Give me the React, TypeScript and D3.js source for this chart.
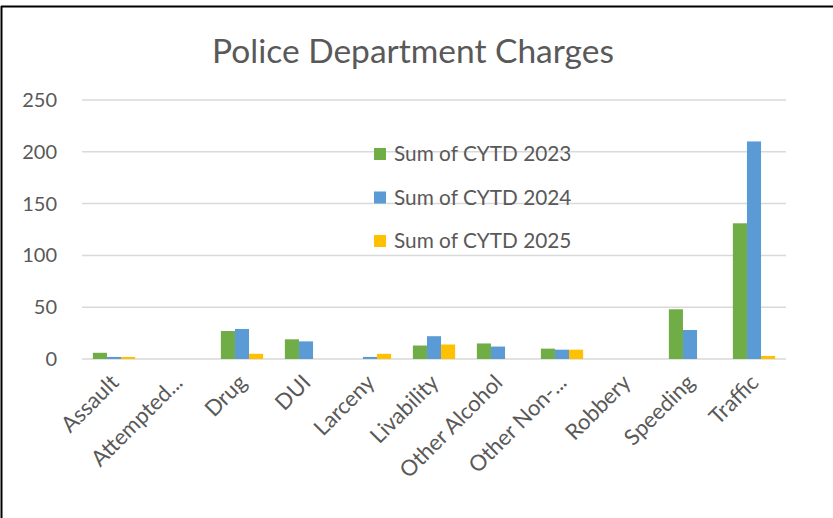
import React from "react";
import * as d3 from "d3";

const categories = ["Assault", "Attempted...", "Drug", "DUI", "Larceny", "Livability", "Other Alcohol", "Other Non-...", "Robbery", "Speeding", "Traffic"];
const seriesNames = ["Sum of CYTD 2023", "Sum of CYTD 2024", "Sum of CYTD 2025"];
const cytd2023 = [6, 0, 27, 19, 0, 13, 15, 10, 0, 48, 131];
const cytd2024 = [2, 0, 29, 17, 2, 22, 12, 9, 0, 28, 210];
const cytd2025 = [2, 0, 5, 0, 5, 14, 0, 9, 0, 0, 3];
const yTicks = [0, 50, 100, 150, 200, 250];
const colors = ["#70AD47", "#5B9BD5", "#FFC000"];

const W = 833;
const H = 518;
const FONT = "Lato, 'Open Sans', sans-serif";
const TXT = "#595959";

export default function App() {
  const series = [cytd2023, cytd2024, cytd2025];
  const x = d3.scaleBand<string>().domain(categories).range([82, 786]).paddingInner(0.34).paddingOuter(0.17);
  const xs = d3.scaleBand<number>().domain([0, 1, 2]).range([0, x.bandwidth()]);
  const y = d3.scaleLinear().domain([0, 250]).range([359, 100]);

  return (
    <svg width={W} height={H} style={{ position: "absolute", left: 0, top: 0, background: "#fff" }} fontFamily={FONT}>
      <rect x={0} y={0} width={W} height={H} fill="#fff" />
      <line x1={1.5} x2={1.5} y1={6} y2={H} stroke="#000" strokeWidth={2} />
      <line x1={1} x2={W} y1={6.5} y2={6.5} stroke="#000" strokeWidth={2} />
      <text x={413} y={63} textAnchor="middle" fontSize={33.5} fontWeight={400} fill={TXT}>Police Department Charges</text>
      {yTicks.map((t) => (
        <g key={t}>
          <line x1={82} x2={786} y1={y(t)} y2={y(t)} stroke="#d9d9d9" strokeWidth={1.5} />
          <text x={57} y={y(t)} dy="0.35em" textAnchor="end" fontSize={20} fill={TXT}>{t}</text>
        </g>
      ))}
      {categories.map((c, i) => (
        <g key={c} transform={`translate(${x(c)},0)`}>
          {series.map((s, j) => (
            <rect key={j} x={xs(j)} y={y(s[i])} width={xs.bandwidth()} height={y(0) - y(s[i])} fill={colors[j]} />
          ))}
        </g>
      ))}
      {categories.map((c) => {
        const cx = (x(c) as number) + x.bandwidth() / 2 + 6;
        return (
          <text key={c} transform={`translate(${cx},384) rotate(-45)`} textAnchor="end" fontSize={22} fill={TXT}>{c}</text>
        );
      })}
      {seriesNames.map((n, j) => (
        <g key={n} transform={`translate(374,${154 + j * 43.5})`}>
          <rect x={0} y={-6} width={12} height={12} fill={colors[j]} />
          <text x={20} y={0} dy="0.35em" fontSize={20.8} fill={TXT}>{n}</text>
        </g>
      ))}
    </svg>
  );
}
